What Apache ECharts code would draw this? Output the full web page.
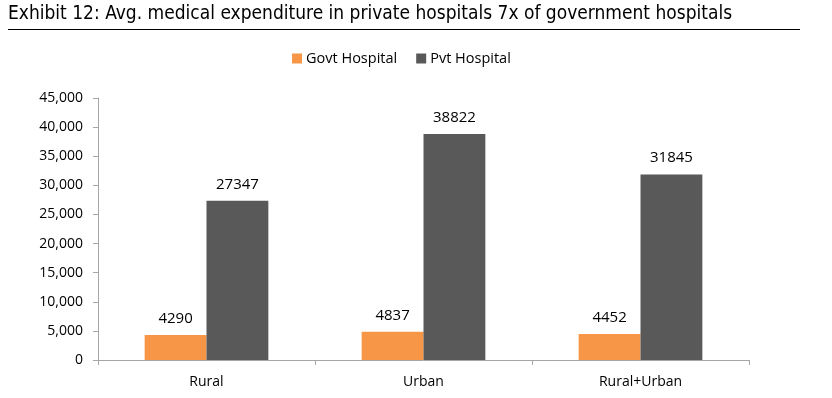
<!DOCTYPE html>
<html><head><meta charset="utf-8">
<script src="https://cdn.jsdelivr.net/npm/echarts@6/dist/echarts.min.js"></script>
<style>html,body{margin:0;padding:0;background:#fff}#c{width:832px;height:398px}</style>
</head><body><div id="c"></div>
<script>
const categories = ['Rural', 'Urban', 'Rural+Urban'];
const govtHospital = [4290, 4837, 4452];
const pvtHospital = [27347, 38822, 31845];
const seriesNames = ['Govt Hospital', 'Pvt Hospital'];
const titleText = 'Exhibit 12: Avg. medical expenditure in private hospitals 7x of government hospitals';

const chart = echarts.init(document.getElementById('c'));
const labelStyle = { show: true, position: 'top', color: '#000', fontSize: 15, fontFamily: 'Open Sans', distance: 9 };
chart.setOption({
  animation: false,
  graphic: [
    { type: 'text', left: 8, top: 5, style: { text: titleText, font: '19px "DejaVu Sans Condensed"', fill: '#000' } },
    { type: 'line', shape: { x1: 8, y1: 29.5, x2: 800, y2: 29.5 }, style: { stroke: '#000', lineWidth: 1 } }
  ],
  legend: {
    top: 46, left: 287, itemWidth: 10, itemHeight: 10, itemGap: 19,
    textStyle: { fontSize: 14.5, fontFamily: 'Open Sans', color: '#000', padding: [0, 0, 0, -1] },
    icon: 'rect'
  },
  grid: { left: 98, right: 83, top: 98, bottom: 38 },
  xAxis: {
    type: 'category', data: categories,
    axisLine: { lineStyle: { color: '#A6A6A6' } },
    axisTick: { show: true, length: 5, lineStyle: { color: '#A6A6A6' } },
    axisLabel: { color: '#000', fontSize: 14, fontFamily: 'Open Sans', margin: 15 }
  },
  yAxis: {
    type: 'value', min: 0, max: 45000, interval: 5000,
    axisLine: { show: true, lineStyle: { color: '#A6A6A6' } },
    axisTick: { show: true, length: 5, lineStyle: { color: '#A6A6A6' } },
    splitLine: { show: false },
    axisLabel: { color: '#000', fontSize: 14, fontFamily: 'Open Sans', margin: 15,
      formatter: v => v.toLocaleString('en-US') }
  },
  series: [
    { name: seriesNames[0], type: 'bar', data: govtHospital, itemStyle: { color: '#F79646' }, barGap: '0%', barCategoryGap: '43%', label: labelStyle },
    { name: seriesNames[1], type: 'bar', data: pvtHospital, itemStyle: { color: '#595959' }, barGap: '0%', barCategoryGap: '43%', label: labelStyle }
  ]
});
</script></body></html>
